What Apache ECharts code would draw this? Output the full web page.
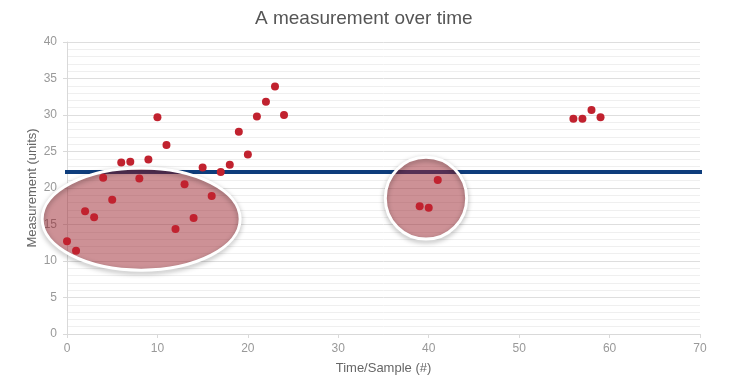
<!DOCTYPE html>
<html>
<head>
<meta charset="utf-8">
<script src="https://cdn.jsdelivr.net/npm/echarts@6/dist/echarts.min.js"></script>
<style>html,body{margin:0;padding:0;background:#fff;}#c{width:744px;height:383px;}</style>
</head>
<body>
<div id="c"></div>
<script>
var samples = [0,1,2,3,4,5,6,7,8,9,10,11,12,13,14,15,16,17,18,19,20,21,22,23,24,39,40,41,56,57,58,59];
var measurements = [12.7,11.4,16.8,16.0,21.4,18.4,23.5,23.6,21.3,23.9,29.7,25.9,14.4,20.5,15.9,22.8,18.9,22.2,23.2,27.7,24.6,29.8,31.8,33.9,30.0,17.5,17.3,21.1,29.5,29.5,30.7,29.7];
var targetLevel = 22.2;
var targetSpan = [-0.8, 72.8];
// highlight regions: [centerX, centerY, radiusX, radiusY] in data units
var highlightCenters = [[8.2, 15.75], [39.7, 18.6]];
var highlightRadii = [[10.95, 7.0], [4.5, 5.6]];
var xTicks = [0,10,20,30,40,50,60,70];
var yTicks = [0,5,10,15,20,25,30,35,40];

var points = samples.map(function(s,i){return [s, measurements[i]];});
var regions = highlightCenters.map(function(c,i){return [c[0], c[1], highlightRadii[i][0], highlightRadii[i][1]];});

var chart = echarts.init(document.getElementById('c'));
chart.setOption({
  backgroundColor: '#fff',
  animation: false,
  title: {
    text: 'A measurement over time',
    left: 250, top: 4,
    textStyle: {fontFamily: 'Liberation Sans', fontSize: 19, fontWeight: 'normal', color: '#555'}
  },
  grid: {left: 67, right: 44, top: 42, bottom: 49},
  xAxis: {
    type: 'value', min: xTicks[0], max: xTicks[xTicks.length-1], interval: 10,
    name: 'Time/Sample (#)', nameLocation: 'middle', nameGap: 28,
    nameTextStyle: {fontFamily: 'Liberation Sans', fontSize: 13, color: '#666'},
    axisLine: {show: true, lineStyle: {color: '#d9d9d9'}},
    axisTick: {show: true, length: 4, lineStyle: {color: '#d9d9d9'}},
    axisLabel: {fontFamily: 'Liberation Sans', fontSize: 12, color: '#999', margin: 9},
    splitLine: {show: false}
  },
  yAxis: {
    type: 'value', min: yTicks[0], max: yTicks[yTicks.length-1], interval: 5,
    name: 'Measurement (units)', nameLocation: 'middle', nameGap: 28, nameMoveOverlap: false,
    nameTextStyle: {fontFamily: 'Liberation Sans', fontSize: 13, color: '#666'},
    axisLine: {show: true, lineStyle: {color: '#d9d9d9'}},
    axisTick: {show: true, length: 4, lineStyle: {color: '#d9d9d9'}},
    axisLabel: {fontFamily: 'Liberation Sans', fontSize: 12, color: '#999', margin: 10},
    splitLine: {show: true, lineStyle: {color: '#dedede'}},
    minorTick: {show: false, splitNumber: 5},
    minorSplitLine: {show: true, lineStyle: {color: '#efefef'}}
  },
  series: [
    {
      type: 'line', z: 2, clip: false, symbol: 'none', silent: true,
      data: [[targetSpan[0], targetLevel], [targetSpan[1], targetLevel]],
      lineStyle: {color: '#0e3d7c', width: 4}
    },
    {
      type: 'custom', z: 3, clip: false, silent: true,
      data: regions,
      renderItem: function(params, api){
        var c = api.coord([api.value(0), api.value(1)]);
        var s = api.size([api.value(2), api.value(3)]);
        return {
          type: 'group',
          children: [
            {
              type: 'ellipse',
              shape: {cx: c[0], cy: c[1], rx: s[0], ry: s[1]},
              style: {fill: 'rgba(155,35,45,0.5)', stroke: null}
            },
            {
              type: 'ellipse',
              shape: {cx: c[0], cy: c[1], rx: s[0], ry: s[1]},
              style: {
                fill: null, stroke: '#ffffff', lineWidth: 3,
                shadowBlur: 5, shadowColor: 'rgba(0,0,0,0.35)', shadowOffsetY: 2
              }
            }
          ]
        };
      }
    },
    {
      type: 'scatter', z: 4, symbolSize: 8,
      data: points,
      itemStyle: {color: '#c1222f', opacity: 1}
    }
  ]
});
</script>
</body>
</html>
